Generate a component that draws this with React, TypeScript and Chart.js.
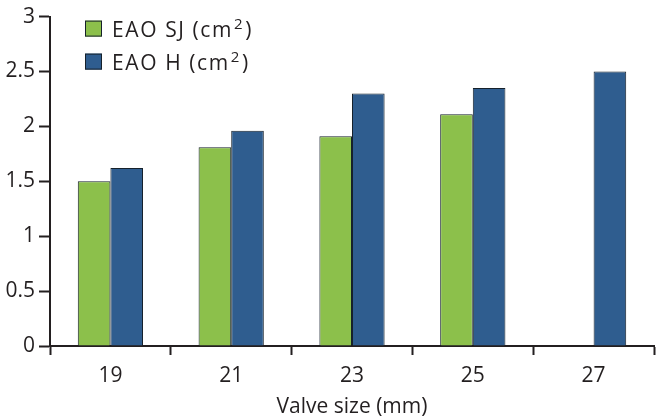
import React, { useEffect, useRef } from "react";
import { Chart, registerables } from "chart.js";

Chart.register(...registerables);

const categories = ["19", "21", "23", "25", "27"];
const sjValues: (number | null)[] = [1.5, 1.81, 1.91, 2.11, null];
const hValues: number[] = [1.62, 1.96, 2.3, 2.35, 2.5];
const seriesLabels = ["EAO SJ (cm²)", "EAO H (cm²)"];
const xTitle = "Valve size (mm)";

const GREEN = "#8cc04b";
const BLUE = "#2f5d8f";
const BORDER = "#16212b";
const TEXT = "#231f20";
const FONT = "'Open Sans', 'DejaVu Sans', sans-serif";

const legendPlugin = {
  id: "insideLegend",
  afterDraw(chart: any) {
    const ctx = chart.ctx;
    const area = chart.chartArea;
    ctx.save();
    chart.data.datasets.forEach((ds: any, i: number) => {
      const x = area.left + 35;
      const y = area.top + 4 + i * 33;
      ctx.fillStyle = ds.backgroundColor;
      ctx.fillRect(x, y, 17, 16);
      ctx.strokeStyle = BORDER;
      ctx.lineWidth = 1;
      ctx.strokeRect(x + 0.5, y + 0.5, 16, 15);
      ctx.fillStyle = TEXT;
      ctx.textBaseline = "alphabetic";
      ctx.textAlign = "left";
      try { (ctx as any).letterSpacing = "1.6px"; } catch (e) {}
      const label: string = ds.label;
      const idx = label.indexOf("²");
      const base = y + 16;
      let tx = x + 27;
      const main = idx >= 0 ? label.slice(0, idx) : label;
      ctx.font = `21px ${FONT}`;
      ctx.fillText(main, tx, base);
      tx += ctx.measureText(main).width + 1;
      if (idx >= 0) {
        ctx.font = `15px ${FONT}`;
        ctx.fillText("2", tx, base - 8);
        tx += ctx.measureText("2").width + 1;
        ctx.font = `21px ${FONT}`;
        ctx.fillText(label.slice(idx + 1), tx, base);
      }
    });
    ctx.restore();
  },
};

export default function App() {
  const ref = useRef<HTMLCanvasElement>(null);
  useEffect(() => {
    if (!ref.current) return;
    const chart = new Chart(ref.current, {
      type: "bar",
      data: {
        labels: categories,
        datasets: [
          {
            label: seriesLabels[0],
            data: sjValues,
            backgroundColor: GREEN,
            borderColor: BORDER,
            borderWidth: 1,
            categoryPercentage: 0.54,
            barPercentage: 1,
          },
          {
            label: seriesLabels[1],
            data: hValues,
            backgroundColor: BLUE,
            borderColor: BORDER,
            borderWidth: 1,
            categoryPercentage: 0.54,
            barPercentage: 1,
          },
        ],
      },
      options: {
        animation: false,
        responsive: false,
        maintainAspectRatio: false,
        layout: { padding: { top: 1, right: 2, left: 0, bottom: 0 } },
        plugins: {
          legend: { display: false },
          tooltip: { enabled: false },
        },
        scales: {
          x: {
            offset: true,
            grid: {
              offset: true,
              drawOnChartArea: false,
              drawTicks: true,
              tickLength: 9,
              tickWidth: 2,
              tickColor: TEXT,
            },
            border: { display: true, color: TEXT, width: 2 },
            ticks: {
              color: TEXT,
              font: { family: FONT, size: 21 },
              padding: 8,
            },
            title: {
              display: true,
              text: xTitle,
              color: TEXT,
              font: { family: FONT, size: 21 },
              padding: { top: 0, bottom: 0 },
            },
            afterFit(scale: any) {
              scale.height = 74;
            },
          },
          y: {
            min: 0,
            max: 3,
            ticks: {
              stepSize: 0.5,
              color: TEXT,
              font: { family: FONT, size: 21 },
              padding: 4,
              callback: (v: any) => String(Number(v)),
            },
            grid: {
              drawOnChartArea: false,
              drawTicks: true,
              tickLength: 11,
              tickWidth: 2,
              tickColor: TEXT,
            },
            border: { display: true, color: TEXT, width: 2 },
            afterFit(scale: any) {
              scale.width = 50;
            },
          },
        },
      },
      plugins: [legendPlugin],
    });
    return () => chart.destroy();
  }, []);
  return (
    <div style={{ position: "fixed", left: 0, top: 0, width: 656, height: 420, background: "#fff" }}>
      <canvas ref={ref} width={656} height={420} style={{ width: 656, height: 420 }} />
    </div>
  );
}
